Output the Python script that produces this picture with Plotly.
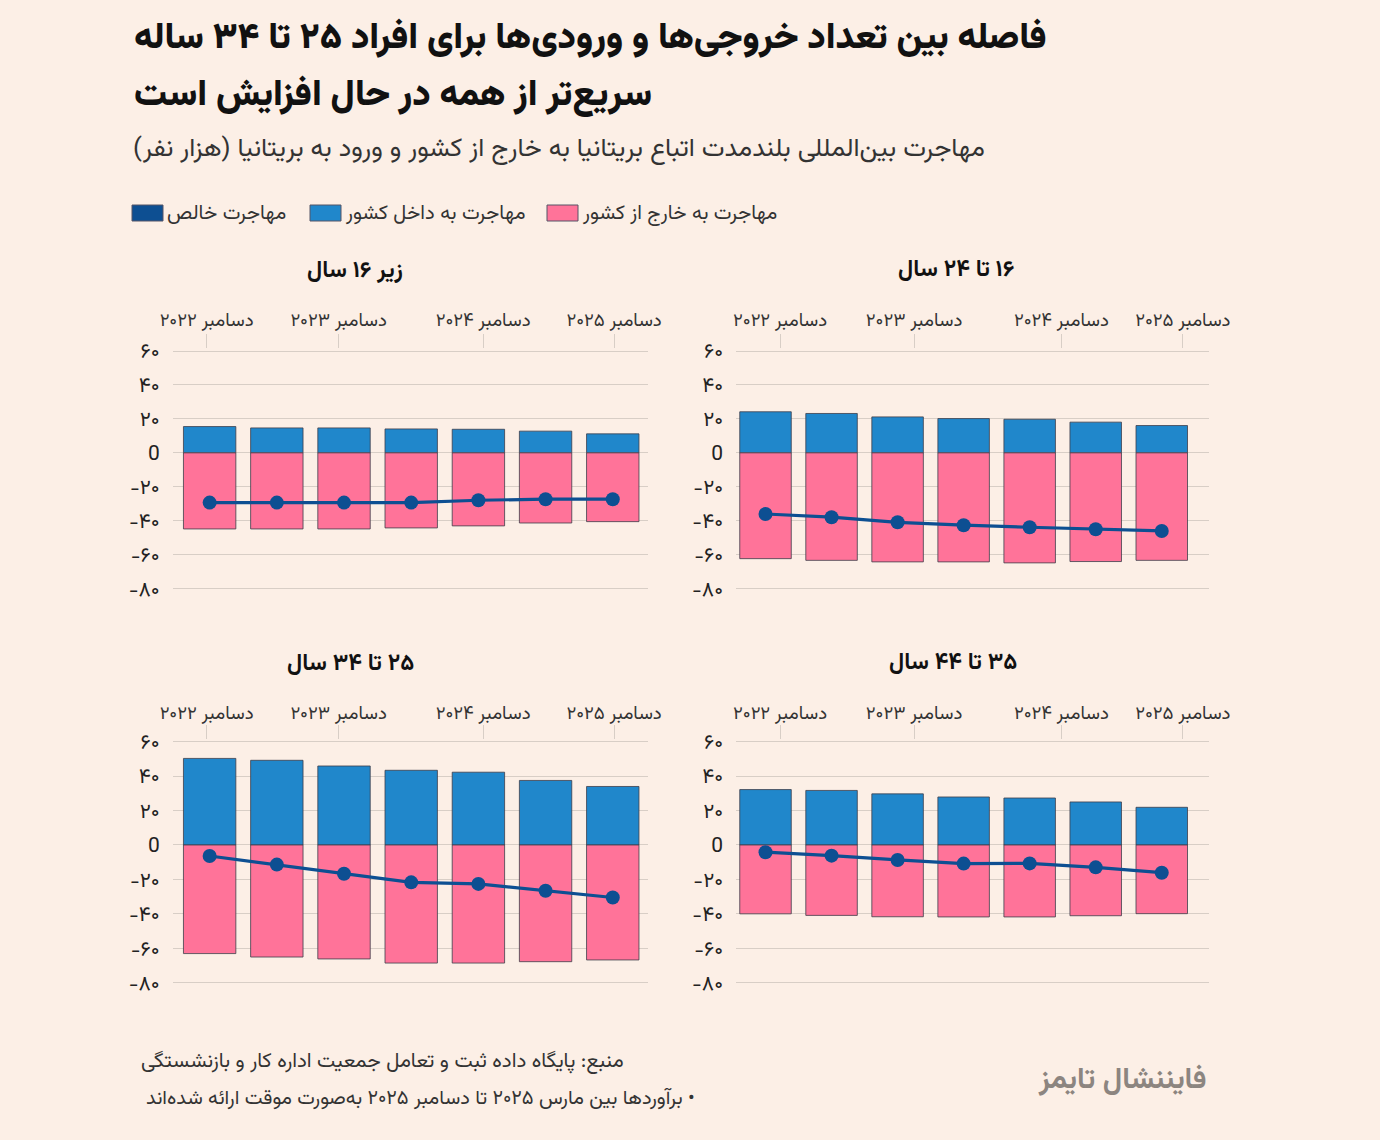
import plotly.graph_objects as go
from plotly.subplots import make_subplots

W, H = 1380, 1140

# half-year periods, Dec 2022 .. Dec 2025
periods = ["دسامبر ۲۰۲۲", "ژوئن ۲۰۲۳", "دسامبر ۲۰۲۳", "ژوئن ۲۰۲۴",
           "دسامبر ۲۰۲۴", "ژوئن ۲۰۲۵", "دسامبر ۲۰۲۵"]
tick_text = ["دسامبر ۲۰۲۲", "دسامبر ۲۰۲۳", "دسامبر ۲۰۲۴", "دسامبر ۲۰۲۵"]
y_ticks = [-80, -60, -40, -20, 0, 20, 40, 60]
y_tick_text = ["-۸۰", "-۶۰", "-۴۰", "-۲۰", "0", "۲۰", "۴۰", "۶۰"]

# thousands of people
under16_in = [15.5, 14.7, 14.7, 14.1, 13.9, 12.8, 11.2]
under16_out = [-44.8, -44.8, -44.8, -44.2, -43.0, -41.3, -40.5]
under16_net = [-29.3, -29.3, -29.3, -29.3, -27.9, -27.3, -27.3]

age16_24_in = [24.2, 23.2, 21.2, 20.2, 19.8, 18.1, 16.1]
age16_24_out = [-62.3, -63.3, -64.2, -64.2, -64.8, -64.0, -63.3]
age16_24_net = [-36.0, -37.9, -40.9, -42.6, -43.8, -45.0, -46.0]

age25_34_in = [50.3, 49.2, 45.9, 43.4, 42.3, 37.5, 34.0]
age25_34_out = [-63.1, -65.1, -66.2, -68.6, -68.6, -67.8, -66.8]
age25_34_net = [-6.4, -11.4, -16.7, -21.7, -22.6, -26.6, -30.5]

age35_44_in = [32.2, 31.7, 29.7, 27.9, 27.3, 25.0, 21.9]
age35_44_out = [-40.0, -40.9, -41.7, -41.8, -41.8, -41.1, -39.9]
age35_44_net = [-4.2, -6.2, -8.7, -10.8, -10.7, -13.0, -16.1]

BG = "#FCEFE6"
GRID = "#D8CEC6"
BLUE = "#2087CB"
PINK = "#FF7399"
NAVY = "#0D4F92"
FONT = "Vazirmatn, Noto Sans Arabic, DejaVu Sans, sans-serif"
RLM = "\u200f"

panels = [
    ("زیر ۱۶ سال", under16_in, under16_out, under16_net, 1, 1),
    ("۱۶ تا ۲۴ سال", age16_24_in, age16_24_out, age16_24_net, 1, 2),
    ("۲۵ تا ۳۴ سال", age25_34_in, age25_34_out, age25_34_net, 2, 1),
    ("۳۵ تا ۴۴ سال", age35_44_in, age35_44_out, age35_44_net, 2, 2),
]

x = list(range(len(periods)))

fig = make_subplots(rows=2, cols=2)

for title, inflow, outflow, net, r, c in panels:
    fig.add_trace(go.Bar(x=x, y=inflow, width=0.78, marker_color=BLUE,
                         marker_line=dict(color="#3d3d4a", width=0.8),
                         hovertext=periods, showlegend=False), row=r, col=c)
    fig.add_trace(go.Bar(x=x, y=outflow, width=0.78, marker_color=PINK,
                         marker_line=dict(color="#3d3d4a", width=0.8),
                         hovertext=periods, showlegend=False), row=r, col=c)
    fig.add_trace(go.Scatter(x=x, y=net, mode="lines+markers",
                             line=dict(color=NAVY, width=3.2),
                             marker=dict(color=NAVY, size=14),
                             hovertext=periods, showlegend=False), row=r, col=c)


def px_x(v):
    return v / W


def px_y(v):
    return 1 - v / H


left_dom = [px_x(172.7), px_x(647.7)]
right_dom = [px_x(736), px_x(1209.3)]
top_dom = [px_y(590.4), px_y(349.3)]
bot_dom = [px_y(984.4), px_y(740.0)]

left_ticks = [-0.045, 1.92, 4.07, 6.02]
right_ticks = [0.22, 2.25, 4.48, 6.32]

axis_x = dict(side="top", showgrid=False, zeroline=False, showline=False,
              ticks="outside", ticklen=14, tickwidth=1, tickcolor=GRID,
              tickmode="array", ticktext=[RLM + t for t in tick_text],
              tickfont=dict(family=FONT, size=18.6, color="#333333"),
              automargin=False)
axis_y = dict(range=[-81, 61], tickmode="array", tickvals=y_ticks,
              ticktext=y_tick_text, showgrid=True, gridcolor=GRID, gridwidth=1,
              zeroline=False, showline=False, ticks="",
              ticklabelstandoff=12, automargin=False,
              tickfont=dict(family=FONT, size=21, color="#222222"))

layouts = {
    "xaxis": dict(axis_x, domain=left_dom, range=[-0.55, 6.52], tickvals=left_ticks,
                  ticklabelstandoff=1),
    "xaxis2": dict(axis_x, domain=right_dom, range=[-0.447, 6.72], tickvals=right_ticks,
                   ticklabelstandoff=1),
    "xaxis3": dict(axis_x, domain=left_dom, range=[-0.55, 6.52], tickvals=left_ticks,
                   ticklabelstandoff=-1),
    "xaxis4": dict(axis_x, domain=right_dom, range=[-0.447, 6.72], tickvals=right_ticks,
                   ticklabelstandoff=-1),
    "yaxis": dict(axis_y, domain=top_dom),
    "yaxis2": dict(axis_y, domain=top_dom),
    "yaxis3": dict(axis_y, domain=bot_dom),
    "yaxis4": dict(axis_y, domain=bot_dom),
}
fig.update_layout(**layouts)

annos = []


def text(s, x, y, size, color="#1a1a1a", bold=False, xanchor="left", weight=None):
    s = RLM + s + RLM
    if bold:
        s = "<b>" + s + "</b>"
    font = dict(family=FONT, size=size, color=color)
    if weight:
        font["weight"] = weight
    annos.append(dict(text=s, x=px_x(x), y=px_y(y), xref="paper", yref="paper",
                      xanchor=xanchor, yanchor="middle", showarrow=False, font=font))


# title + subtitle
text("فاصله بین تعداد خروجی‌ها و ورودی‌ها برای افراد ۲۵ تا ۳۴ ساله", 132, 39, 36.2, "#111111", weight=900)
text("سریع‌تر از همه در حال افزایش است", 132, 96, 36.2, "#111111", weight=900)
text("مهاجرت بین‌المللی بلندمدت اتباع بریتانیا به خارج از کشور و ورود به بریتانیا (هزار نفر)",
     131, 150, 26, "#333333")

# legend
legend_items = [("مهاجرت خالص", NAVY, 132), ("مهاجرت به داخل کشور", BLUE, 310),
                ("مهاجرت به خارج از کشور", PINK, 547)]
shapes = []
for label, col, x0 in legend_items:
    shapes.append(dict(type="rect", xref="paper", yref="paper",
                       x0=px_x(x0), x1=px_x(x0 + 31), y0=px_y(221), y1=px_y(205),
                       fillcolor=col, line=dict(color="#555566", width=1)))
    text(label, x0 + 33, 214, 20.2, "#333333")

# panel titles
for (title, *_), (cx, cy) in zip(panels, [(355, 271), (956, 270), (351, 664), (953, 663)]):
    text(title, cx, cy, 23, "#111111", True, xanchor="center")

# footer
text("منبع: پایگاه داده ثبت و تعامل جمعیت اداره کار و بازنشستگی", 139, 1062, 20.5, "#333333")
text("• برآوردها بین مارس ۲۰۲۵ تا دسامبر ۲۰۲۵ به‌صورت موقت ارائه شده‌اند", 144, 1099, 20, "#333333")
text("فایننشال تایمز", 1209, 1081, 29.5, "#8C8580", True, xanchor="right")

fig.update_layout(
    autosize=True, barmode="relative", bargap=0.2,
    paper_bgcolor=BG, plot_bgcolor=BG,
    margin=dict(l=0, r=0, t=0, b=0),
    annotations=annos, shapes=shapes,
    font=dict(family=FONT), showlegend=False,
)

fig.write_html(
    "out.html",
    config={"displayModeBar": False, "responsive": True},
    default_width="100vw", default_height="100vh",
    post_script="document.documentElement.style.margin='0';"
                "document.body.style.margin='0';"
                "document.body.style.overflow='hidden';"
                "document.body.style.background='" + BG + "';"
                "Plotly.Plots.resize(document.getElementById('{plot_id}'));",
)
